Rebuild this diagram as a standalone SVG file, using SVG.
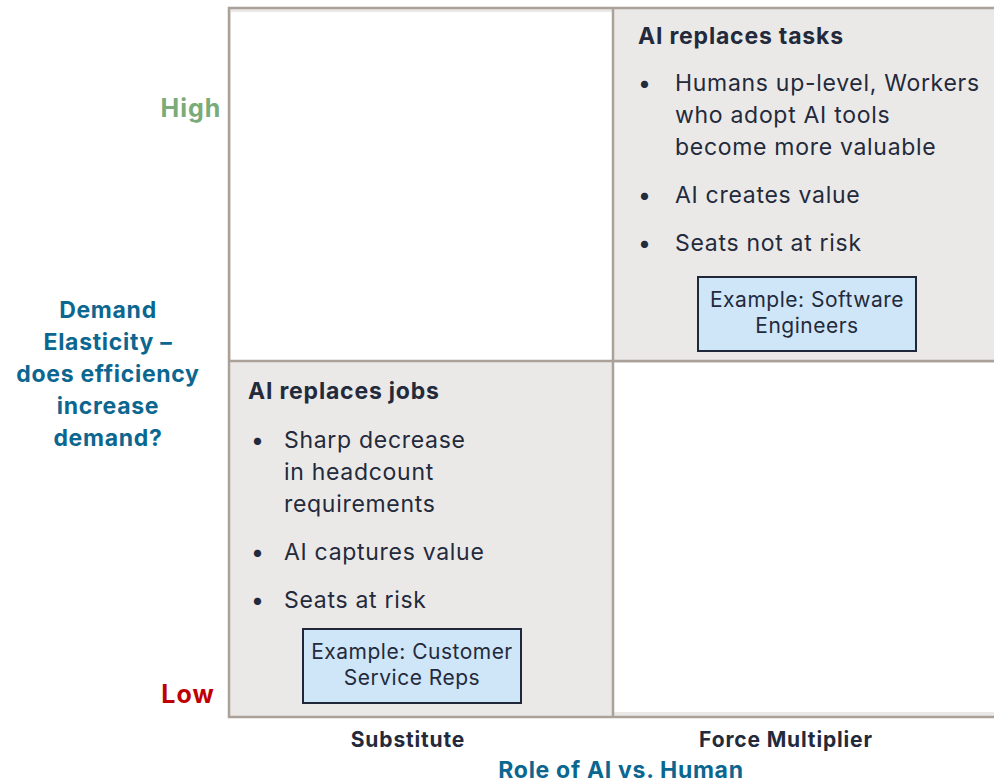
<svg xmlns="http://www.w3.org/2000/svg" width="994" height="784" viewBox="0 0 994 784">
<style>
text{font-family:Inter,"Liberation Sans",sans-serif;}
.h{font-size:23px;font-weight:700;fill:#232a3c;letter-spacing:0.8px;}
.b{font-size:23px;fill:#232a3c;letter-spacing:0.7px;}
.ex{font-size:21px;fill:#232a3c;text-anchor:middle;letter-spacing:0.5px;}
.ax{font-size:23px;font-weight:700;fill:#0b6690;text-anchor:middle;letter-spacing:0.7px;}
.tick{font-size:21px;font-weight:700;fill:#232a3c;text-anchor:middle;letter-spacing:0.85px;}
.lvl{font-size:25px;font-weight:700;text-anchor:middle;letter-spacing:1px;}
.cell{stroke:none;}
.grid{fill:none;stroke:#aaa198;stroke-width:2.5;}
.exbox{fill:#cfe6f8;stroke:#1f2738;stroke-width:2;}
</style>
<g id="grid">
<rect x="229" y="8" width="770" height="709" fill="#ebe9e7"/>
<rect class="cell" x="231" y="12" width="381" height="348" fill="#ffffff"/>
<rect class="cell" x="614" y="363" width="385" height="349" fill="#ffffff"/>
</g>
<g id="connectors">
<rect class="grid" x="229" y="8" width="775" height="709"/>
<line class="grid" x1="613" y1="8" x2="613" y2="717"/>
<line class="grid" x1="229" y1="361" x2="999" y2="361"/>
</g>
<g id="q-tasks">
<text class="h" x="638" y="44">AI replaces tasks</text>
<text class="b" x="638" y="91">•</text>
<text class="b" x="675" y="91">Humans up-level, Workers</text>
<text class="b" x="675" y="123">who adopt AI tools</text>
<text class="b" x="675" y="155">become more valuable</text>
<text class="b" x="638" y="203">•</text>
<text class="b" x="675" y="203">AI creates value</text>
<text class="b" x="638" y="251">•</text>
<text class="b" x="675" y="251">Seats not at risk</text>
</g>
<g id="ex-software">
<rect class="exbox" x="698" y="277" width="218" height="74"/>
<text class="ex" x="807" y="307">Example: Software</text>
<text class="ex" x="807" y="333">Engineers</text>
</g>
<g id="q-jobs">
<text class="h" x="248" y="399">AI replaces jobs</text>
<text class="b" x="251" y="448">•</text>
<text class="b" x="284" y="448">Sharp decrease</text>
<text class="b" x="284" y="480">in headcount</text>
<text class="b" x="284" y="512">requirements</text>
<text class="b" x="251" y="560">•</text>
<text class="b" x="284" y="560">AI captures value</text>
<text class="b" x="251" y="608">•</text>
<text class="b" x="284" y="608">Seats at risk</text>
</g>
<g id="ex-customer">
<rect class="exbox" x="303" y="629" width="218" height="74"/>
<text class="ex" x="412" y="659">Example: Customer</text>
<text class="ex" x="412" y="685">Service Reps</text>
</g>
<g id="y-axis">
<text class="lvl" x="191" y="117" fill="#7aab78">High</text>
<text class="lvl" x="188" y="703" fill="#c00000">Low</text>
<text class="ax" x="108" y="318">Demand</text>
<text class="ax" x="108" y="350">Elasticity –</text>
<text class="ax" x="108" y="382">does efficiency</text>
<text class="ax" x="108" y="414">increase</text>
<text class="ax" x="108" y="446">demand?</text>
</g>
<g id="x-axis">
<text class="tick" x="408" y="747">Substitute</text>
<text class="tick" x="786" y="747">Force Multiplier</text>
<text class="ax" x="621" y="778">Role of AI vs. Human</text>
</g>
</svg>
